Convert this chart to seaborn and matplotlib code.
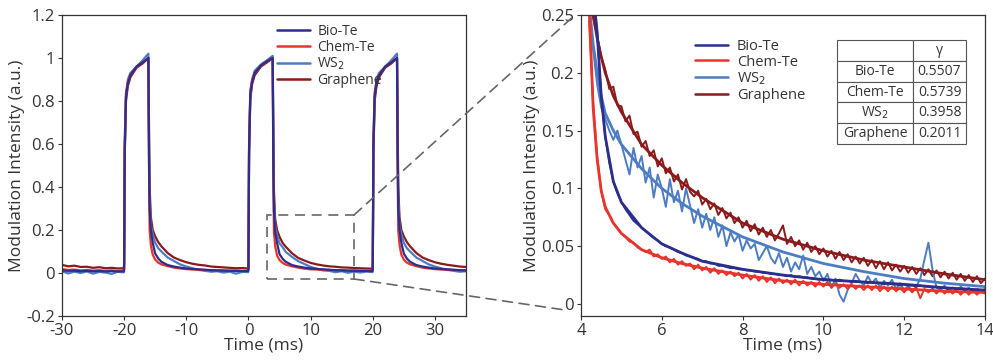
import numpy as np
import pandas as pd
import matplotlib
matplotlib.use("Agg")
import matplotlib.pyplot as plt
from matplotlib.patches import Rectangle, ConnectionPatch
from matplotlib.lines import Line2D
import seaborn as sns

# ---------------- data ----------------
series_names = ["Bio-Te", "Chem-Te", "WS$_2$", "Graphene"]
colors = {"Bio-Te": "#2b2e8c", "Chem-Te": "#e8342b", "WS$_2$": "#4d7cc3", "Graphene": "#8b1a1c"}

# left panel: full modulation traces (time in ms)
t_left = [-30, -29, -28, -27, -26, -25, -24, -23, -22, -21, -20.05,
          -20, -19.9, -19.7, -19.4, -19, -18, -17, -16.1, -16, -15.9, -15.7, -15.4, -15, -14.5, -14,
          -13, -12, -11, -10, -9, -8, -7, -6, -5, -4, -3, -2, -1, -0.05,
          0, 0.1, 0.3, 0.6, 1, 2, 3, 3.9, 4, 4.1, 4.3, 4.6, 5, 5.5, 6,
          7, 8, 9, 10, 11, 12, 13, 14, 15, 16, 17, 18, 19, 19.95,
          20, 20.1, 20.3, 20.6, 21, 22, 23, 23.9, 24, 24.1, 24.3, 24.6, 25, 25.5, 26,
          27, 28, 29, 30, 31, 32, 33, 34, 35]

graphene_left = [0.038, 0.031, 0.034, 0.028, 0.029, 0.024, 0.027, 0.022, 0.024, 0.021, 0.022,
                 0.05, 0.55, 0.8, 0.87, 0.91, 0.955, 0.975, 1.0, 0.7, 0.4, 0.26, 0.2, 0.17, 0.143, 0.124,
                 0.093, 0.072, 0.06, 0.05, 0.043, 0.038, 0.035, 0.03, 0.028, 0.026, 0.024, 0.022, 0.023, 0.021,
                 0.05, 0.56, 0.81, 0.88, 0.92, 0.96, 0.98, 1.0, 0.68, 0.38, 0.25, 0.2, 0.168, 0.14, 0.122,
                 0.092, 0.07, 0.058, 0.047, 0.04, 0.035, 0.031, 0.029, 0.026, 0.025, 0.023, 0.022, 0.021, 0.02,
                 0.05, 0.55, 0.8, 0.87, 0.91, 0.955, 0.975, 1.0, 0.7, 0.4, 0.26, 0.2, 0.17, 0.143, 0.124,
                 0.093, 0.072, 0.06, 0.05, 0.043, 0.038, 0.034, 0.03, 0.028]
chemte_left = [0.018, 0.014, 0.016, 0.012, 0.014, 0.011, 0.013, 0.01, 0.012, 0.009, 0.011,
               0.03, 0.62, 0.84, 0.89, 0.92, 0.96, 0.98, 1.0, 0.5, 0.2, 0.13, 0.085, 0.062, 0.048, 0.04,
               0.032, 0.025, 0.021, 0.018, 0.016, 0.015, 0.014, 0.013, 0.012, 0.012, 0.011, 0.011, 0.01, 0.01,
               0.03, 0.6, 0.85, 0.9, 0.93, 0.965, 0.985, 1.0, 0.48, 0.19, 0.125, 0.082, 0.06, 0.047, 0.039,
               0.031, 0.025, 0.02, 0.017, 0.016, 0.014, 0.014, 0.012, 0.013, 0.011, 0.012, 0.01, 0.011, 0.01,
               0.03, 0.62, 0.84, 0.89, 0.92, 0.96, 0.98, 1.0, 0.5, 0.2, 0.13, 0.085, 0.062, 0.048, 0.04,
               0.032, 0.025, 0.021, 0.018, 0.016, 0.015, 0.014, 0.013, 0.012]
biote_left = [0.012, 0.01, 0.011, 0.008, 0.01, 0.008, 0.009, 0.007, 0.009, 0.007, 0.008,
              0.02, 0.58, 0.82, 0.88, 0.92, 0.96, 0.98, 1.0, 0.55, 0.3, 0.2, 0.14, 0.09, 0.067, 0.052,
              0.037, 0.03, 0.025, 0.021, 0.019, 0.017, 0.015, 0.013, 0.012, 0.011, 0.01, 0.01, 0.009, 0.009,
              0.02, 0.57, 0.83, 0.89, 0.93, 0.965, 0.985, 1.0, 0.53, 0.29, 0.19, 0.14, 0.088, 0.066, 0.052,
              0.037, 0.03, 0.025, 0.021, 0.019, 0.017, 0.015, 0.013, 0.012, 0.011, 0.01, 0.01, 0.009, 0.009,
              0.02, 0.58, 0.82, 0.88, 0.92, 0.96, 0.98, 1.0, 0.55, 0.3, 0.2, 0.14, 0.09, 0.067, 0.052,
              0.037, 0.03, 0.025, 0.021, 0.019, 0.017, 0.015, 0.013, 0.012]
ws2_left = [0.008, -0.002, 0.006, 0.0, 0.007, -0.003, 0.005, 0.002, -0.004, 0.006, 0.003,
            0.01, 0.57, 0.82, 0.9, 0.93, 0.96, 0.99, 1.02, 0.6, 0.35, 0.22, 0.18, 0.14, 0.115, 0.1,
            0.072, 0.056, 0.04, 0.03, 0.022, 0.014, 0.01, 0.006, 0.008, 0.002, 0.006, -0.003, 0.005, 0.004,
            0.02, 0.56, 0.83, 0.9, 0.94, 0.97, 0.99, 1.01, 0.6, 0.34, 0.22, 0.175, 0.138, 0.12, 0.098,
            0.075, 0.055, 0.042, 0.028, 0.02, 0.012, 0.01, 0.004, 0.008, 0.001, 0.006, 0.002, 0.007, 0.004,
            0.01, 0.57, 0.82, 0.9, 0.93, 0.96, 0.99, 1.02, 0.6, 0.35, 0.22, 0.18, 0.14, 0.115, 0.1,
            0.072, 0.056, 0.04, 0.03, 0.022, 0.014, 0.01, 0.006, 0.008]

# right panel: zoomed decay, measured data (sampled every 0.1 ms from 4.2 to 14.0 ms)
t_right = [4.2, 4.3, 4.4, 4.5, 4.6, 4.7, 4.8, 4.9,
           5.0, 5.1, 5.2, 5.3, 5.4, 5.5, 5.6, 5.7, 5.8, 5.9,
           6.0, 6.1, 6.2, 6.3, 6.4, 6.5, 6.6, 6.7, 6.8, 6.9,
           7.0, 7.1, 7.2, 7.3, 7.4, 7.5, 7.6, 7.7, 7.8, 7.9,
           8.0, 8.1, 8.2, 8.3, 8.4, 8.5, 8.6, 8.7, 8.8, 8.9,
           9.0, 9.1, 9.2, 9.3, 9.4, 9.5, 9.6, 9.7, 9.8, 9.9,
           10.0, 10.1, 10.2, 10.3, 10.4, 10.5, 10.6, 10.7, 10.8, 10.9,
           11.0, 11.1, 11.2, 11.3, 11.4, 11.5, 11.6, 11.7, 11.8, 11.9,
           12.0, 12.1, 12.2, 12.3, 12.4, 12.5, 12.6, 12.7, 12.8, 12.9,
           13.0, 13.1, 13.2, 13.3, 13.4, 13.5, 13.6, 13.7, 13.8, 13.9,
           14.0]
graphene_right = [0.262, 0.248, 0.232, 0.214, 0.203, 0.186, 0.188, 0.172,
                  0.171, 0.158, 0.163, 0.147, 0.149, 0.136, 0.141, 0.128, 0.133, 0.119,
                  0.126, 0.113, 0.118, 0.106, 0.112, 0.099, 0.108, 0.097, 0.093, 0.098,
                  0.086, 0.091, 0.082, 0.087, 0.077, 0.083, 0.074, 0.079, 0.070, 0.075,
                  0.066, 0.072, 0.063, 0.069, 0.060, 0.066, 0.058, 0.064, 0.055, 0.061,
                  0.068, 0.052, 0.058, 0.050, 0.055, 0.047, 0.053, 0.045, 0.050, 0.043,
                  0.048, 0.041, 0.046, 0.039, 0.045, 0.038, 0.043, 0.036, 0.041, 0.035,
                  0.040, 0.033, 0.038, 0.031, 0.037, 0.030, 0.036, 0.029, 0.034, 0.028,
                  0.033, 0.027, 0.032, 0.026, 0.031, 0.025, 0.030, 0.024, 0.029, 0.023,
                  0.028, 0.022, 0.027, 0.021, 0.026, 0.020, 0.025, 0.019, 0.024, 0.018,
                  0.022]
chemte_right = [0.245, 0.175, 0.128, 0.098, 0.082, 0.077, 0.070, 0.066,
                0.061, 0.058, 0.054, 0.053, 0.049, 0.047, 0.045, 0.047, 0.041, 0.043,
                0.039, 0.041, 0.036, 0.039, 0.034, 0.037, 0.033, 0.035, 0.030, 0.034,
                0.029, 0.032, 0.027, 0.031, 0.026, 0.029, 0.025, 0.028, 0.024, 0.027,
                0.022, 0.026, 0.021, 0.025, 0.020, 0.024, 0.019, 0.023, 0.018, 0.022,
                0.018, 0.021, 0.017, 0.021, 0.016, 0.020, 0.016, 0.019, 0.015, 0.019,
                0.015, 0.019, 0.014, 0.018, 0.014, 0.017, 0.013, 0.017, 0.013, 0.016,
                0.012, 0.016, 0.012, 0.016, 0.011, 0.015, 0.011, 0.015, 0.011, 0.014,
                0.010, 0.014, 0.010, 0.014, 0.005, 0.013, 0.010, 0.013, 0.009, 0.013,
                0.009, 0.012, 0.009, 0.012, 0.008, 0.012, 0.008, 0.012, 0.008, 0.011,
                0.009]
biote_right = [0.300, 0.270, 0.235, 0.180, 0.145, 0.122, 0.106, 0.096,
               0.088, 0.082, 0.077, 0.072, 0.069, 0.066, 0.063, 0.060, 0.057, 0.055,
               0.052, 0.050, 0.049, 0.047, 0.045, 0.044, 0.042, 0.041, 0.040, 0.039,
               0.037, 0.037, 0.035, 0.035, 0.033, 0.033, 0.032, 0.031, 0.031, 0.030,
               0.030, 0.029, 0.029, 0.028, 0.028, 0.027, 0.027, 0.026, 0.026, 0.025,
               0.025, 0.024, 0.025, 0.023, 0.024, 0.023, 0.023, 0.022, 0.022, 0.021,
               0.022, 0.021, 0.021, 0.020, 0.021, 0.020, 0.020, 0.019, 0.020, 0.019,
               0.019, 0.018, 0.019, 0.018, 0.018, 0.017, 0.018, 0.017, 0.017, 0.016,
               0.017, 0.016, 0.016, 0.015, 0.016, 0.015, 0.015, 0.014, 0.015, 0.014,
               0.014, 0.013, 0.014, 0.013, 0.013, 0.012, 0.013, 0.012, 0.012, 0.012,
               0.012]
ws2_right = [0.250, 0.220, 0.190, 0.170, 0.160, 0.150, 0.142, 0.150,
             0.138, 0.125, 0.112, 0.135, 0.118, 0.128, 0.105, 0.118, 0.092, 0.112,
             0.100, 0.084, 0.108, 0.088, 0.098, 0.080, 0.100, 0.085, 0.070, 0.082,
             0.066, 0.078, 0.064, 0.075, 0.058, 0.068, 0.050, 0.062, 0.054, 0.060,
             0.046, 0.055, 0.048, 0.052, 0.038, 0.044, 0.050, 0.040, 0.035, 0.044,
             0.032, 0.040, 0.028, 0.036, 0.030, 0.042, 0.026, 0.032, 0.024, 0.028,
             0.020, 0.026, 0.014, 0.022, 0.008, 0.002, 0.012, 0.018, 0.026, 0.020,
             0.016, 0.024, 0.018, 0.022, 0.014, 0.020, 0.016, 0.021, 0.013, 0.018,
             0.012, 0.016, 0.011, 0.015, 0.022, 0.038, 0.053, 0.030, 0.014, 0.012,
             0.016, 0.010, 0.014, 0.011, 0.015, 0.012, 0.014, 0.010, 0.013, 0.011,
             0.013]

# right panel: fitted decay curves
t_fit = [4.2, 4.3, 4.4, 4.5, 4.6, 4.8, 5.0, 5.5, 6, 6.5, 7, 8, 9, 10, 11, 12, 13, 14]
graphene_fit = [0.28, 0.25, 0.23, 0.214, 0.2, 0.18, 0.166, 0.138, 0.12, 0.105, 0.092, 0.07, 0.056, 0.046, 0.038, 0.032, 0.026, 0.021]
chemte_fit = [0.26, 0.17, 0.125, 0.098, 0.084, 0.07, 0.061, 0.047, 0.04, 0.035, 0.031, 0.025, 0.02, 0.017, 0.015, 0.013, 0.011, 0.01]
biote_fit = [0.3, 0.27, 0.235, 0.18, 0.145, 0.106, 0.088, 0.066, 0.052, 0.044, 0.037, 0.03, 0.025, 0.021, 0.019, 0.017, 0.014, 0.012]
ws2_fit = [0.26, 0.225, 0.2, 0.18, 0.165, 0.15, 0.138, 0.117, 0.1, 0.087, 0.076, 0.058, 0.045, 0.035, 0.028, 0.022, 0.018, 0.015]

gamma_labels = ["Bio-Te", "Chem-Te", "WS$_2$", "Graphene"]
gamma_values = ["0.5507", "0.5739", "0.3958", "0.2011"]

left_tick_labels = ["-0.2", "0", "0.2", "0.4", "0.6", "0.8", "1", "1.2"]
right_tick_labels = ["0", "0.05", "0.1", "0.15", "0.2", "0.25"]

# ---------------- frames ----------------
def long_frame(t, d):
    rows = []
    for name, vals in d.items():
        for ti, vi in zip(t, vals):
            rows.append((ti, vi, name))
    return pd.DataFrame(rows, columns=["t", "v", "series"])

df_left = long_frame(t_left, {"Bio-Te": biote_left, "Chem-Te": chemte_left,
                              "WS$_2$": ws2_left, "Graphene": graphene_left})
df_right = long_frame(t_right, {"Bio-Te": biote_right, "Chem-Te": chemte_right,
                                "WS$_2$": ws2_right, "Graphene": graphene_right})
df_fit = long_frame(t_fit, {"Bio-Te": biote_fit, "Chem-Te": chemte_fit,
                            "WS$_2$": ws2_fit, "Graphene": graphene_fit})

# ---------------- style ----------------
sns.set_style("ticks")
plt.rcParams["font.family"] = ["Open Sans", "DejaVu Sans"]
plt.rcParams["axes.unicode_minus"] = False
plt.rcParams["axes.edgecolor"] = "#333333"
plt.rcParams["xtick.color"] = "#333333"
plt.rcParams["ytick.color"] = "#333333"
plt.rcParams["text.color"] = "#333333"
plt.rcParams["axes.labelcolor"] = "#333333"

fig = plt.figure(figsize=(9.93, 3.63), dpi=100)
axL = fig.add_axes([0.0624, 0.1295, 0.4069, 0.8292])
axR = fig.add_axes([0.5851, 0.1295, 0.4068, 0.8292])

draw_order = ["Graphene", "WS$_2$", "Chem-Te", "Bio-Te"]

# left panel
sns.lineplot(data=df_left, x="t", y="v", hue="series", hue_order=draw_order,
             palette=colors, estimator=None, sort=False, lw=1.6, ax=axL, legend=False)
axL.set_xlim(-30, 35)
axL.set_ylim(-0.2, 1.2)
axL.set_xticks([-30, -20, -10, 0, 10, 20, 30])
axL.set_yticks([-0.2, 0, 0.2, 0.4, 0.6, 0.8, 1.0, 1.2])
axL.set_yticklabels(left_tick_labels)
axL.set_xlabel("Time (ms)", fontsize=12.5, labelpad=-1)
axL.set_ylabel("Modulation Intensity (a.u.)", fontsize=12.5, labelpad=1)
handles = [Line2D([], [], color=colors[n], lw=1.8) for n in series_names]
axL.legend(handles, series_names, loc="upper left", bbox_to_anchor=(0.51, 1.0),
           frameon=False, fontsize=10, handlelength=2.4, labelspacing=0.05,
           handletextpad=0.5, borderaxespad=0.25)

# zoom box
box = Rectangle((3, -0.028), 14, 0.298, fill=False, ls=(0, (6, 4)), lw=1.2,
                edgecolor="#666666", zorder=5)
axL.add_patch(box)

# right panel
sns.lineplot(data=df_right, x="t", y="v", hue="series", hue_order=draw_order,
             palette=colors, estimator=None, sort=False, lw=1.4, ax=axR, legend=False)
sns.lineplot(data=df_fit, x="t", y="v", hue="series", hue_order=draw_order,
             palette=colors, estimator=None, sort=False, lw=2.0, ax=axR, legend=False)
axR.set_xlim(4, 14)
axR.set_ylim(-0.0104, 0.25)
axR.set_xticks([4, 6, 8, 10, 12, 14])
axR.set_yticks([0, 0.05, 0.1, 0.15, 0.2, 0.25])
axR.set_yticklabels(right_tick_labels)
axR.set_xlabel("Time (ms)", fontsize=12.5, labelpad=-1)
axR.set_ylabel("Modulation Intensity (a.u.)", fontsize=12.5, labelpad=1)
axR.legend(handles, series_names, loc="upper left", bbox_to_anchor=(0.26, 0.95),
           frameon=False, fontsize=10.5, handlelength=2.3, labelspacing=0.05,
           handletextpad=0.6, borderaxespad=0.2)

for ax in (axL, axR):
    ax.tick_params(labelsize=12, length=3, width=0.8, pad=2)
    for s in ax.spines.values():
        s.set_linewidth(0.9)
        s.set_visible(True)

# gamma table
cell_text = [["", "γ"]] + [[a, b] for a, b in zip(gamma_labels, gamma_values)]
tab = axR.table(cellText=cell_text, bbox=[0.634, 0.571, 0.319, 0.346],
                colWidths=[0.59, 0.41], cellLoc="center")
tab.auto_set_font_size(False)
tab.set_fontsize(10)
for (r, c), cell in tab.get_celld().items():
    cell.set_edgecolor("#555555")
    cell.set_linewidth(0.8)
    if c == 1 and r > 0:
        cell._loc = "left"
        cell.PAD = 0.02

# connector lines
for (xa, ya), (xb, yb) in [((17, 0.27), (-0.015, 1.0)), ((17, -0.028), (-0.04, 0.02))]:
    con = ConnectionPatch(xyA=(xa, ya), coordsA=axL.transData,
                          xyB=(xb, yb), coordsB=axR.transAxes,
                          ls=(0, (6, 4)), lw=1.2, color="#666666")
    fig.add_artist(con)

fig.savefig("out.png", dpi=100)
